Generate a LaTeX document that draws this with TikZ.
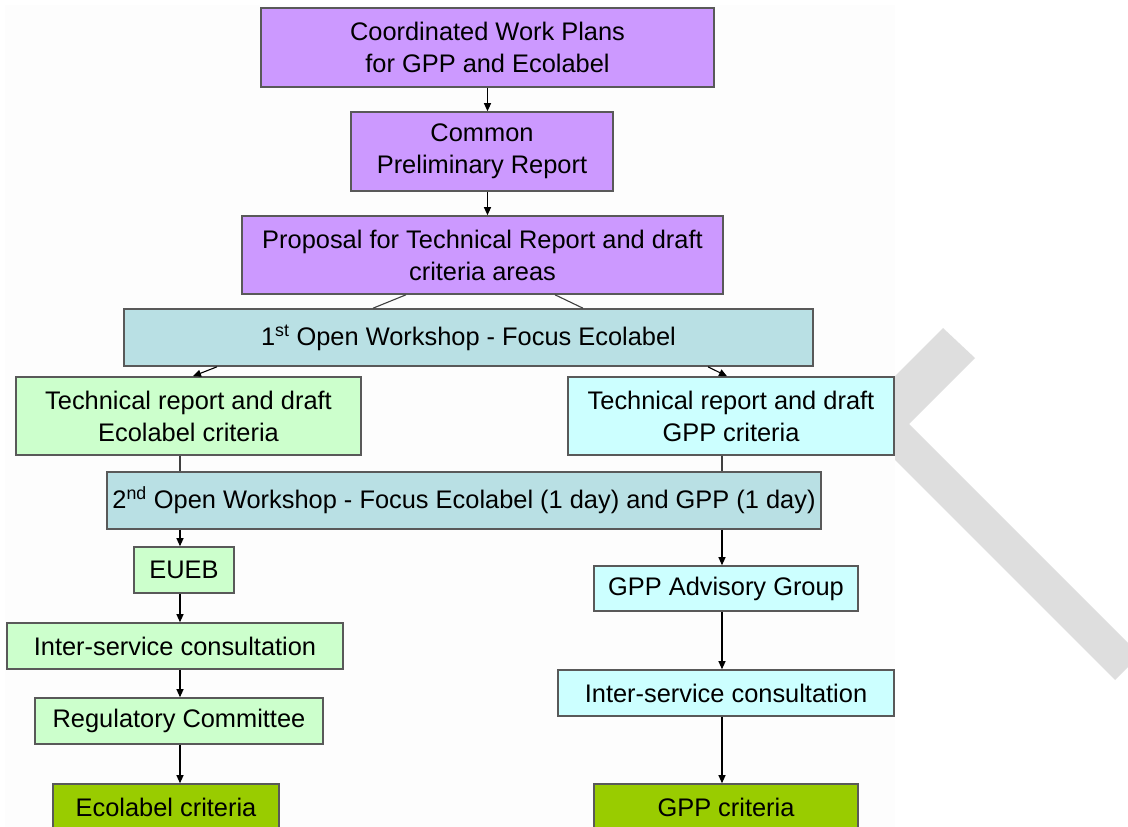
\documentclass[tikz,border=0pt]{standalone}
\usepackage{fontspec}
\setmainfont{Liberation Sans}
\usetikzlibrary{arrows.meta,calc,positioning}
\definecolor{plancol}{RGB}{204,153,255}
\definecolor{shopcol}{RGB}{185,224,228}
\definecolor{ecocol}{RGB}{204,255,204}
\definecolor{gppcol}{RGB}{204,255,255}
\definecolor{critcol}{RGB}{153,204,0}
\definecolor{chevcol}{RGB}{222,222,222}
\definecolor{panelcol}{RGB}{253,253,253}

\begin{document}
\begin{tikzpicture}[x=1pt, y=-1pt,
	box/.style={draw=black!65, line width=1.6pt, align=center, inner sep=0pt, font=\fontsize{25.4}{32}\selectfont},
	arr/.style={line width=1.1pt, -{Triangle[length=8pt,width=7pt]}},
	link/.style={line width=1.1pt, draw=black!75}]
	\useasboundingbox (0,0) rectangle (1128,827);

	% Gray chevron behind the slide panel
	\fill[chevcol] (943,328) -- (975,358) -- (909,424) -- (1140,655) -- (1115,680) -- (853,418) -- cycle;
	\fill[panelcol] (5,5) rectangle (895,827);

	% Common steps
	\node[box, fill=plancol, minimum width=453, minimum height=79] (plans) at (487.5,47.5) {Coordinated Work Plans\\for GPP and Ecolabel};
	\node[box, fill=plancol, minimum width=262, minimum height=79] (prelim) at (482,151.5) {Common\\Preliminary Report};
	\node[box, fill=plancol, minimum width=481, minimum height=78] (proposal) at (482.5,255) {Proposal for Technical Report and draft\\criteria areas};
	\node[box, fill=shopcol, minimum width=689, minimum height=57] (ws1) at (468.5,337.5) {1\textsuperscript{st} Open Workshop - Focus Ecolabel};

	\node[box, fill=ecocol, minimum width=345, minimum height=78] (techeco) at (188.5,416) {Technical report and draft\\Ecolabel criteria};
	\node[box, fill=gppcol, minimum width=326, minimum height=78] (techgpp) at (731,416) {Technical report and draft\\GPP criteria};
	\node[box, fill=shopcol, minimum width=714, minimum height=57] (ws2) at (464,500.5) {2\textsuperscript{nd} Open Workshop - Focus Ecolabel (1 day) and GPP (1 day)};

	% Ecolabel branch
	\node[box, fill=ecocol, minimum width=100, minimum height=46] (eueb) at (184,570) {EUEB};
	\node[box, fill=ecocol, minimum width=336, minimum height=46] (iscl) at (175,646) {Inter-service consultation};
	\node[box, fill=ecocol, minimum width=288, minimum height=46] (regc) at (179,721) {Regulatory Committee};
	\node[box, fill=critcol, minimum width=226, minimum height=46] (ecocrit) at (166,807) {Ecolabel criteria};

	% GPP branch
	\node[box, fill=gppcol, minimum width=264, minimum height=45] (advgrp) at (726,588.5) {GPP Advisory Group};
	\node[box, fill=gppcol, minimum width=336, minimum height=46] (iscg) at (726,693) {Inter-service consultation};
	\node[box, fill=critcol, minimum width=264, minimum height=46] (gppcrit) at (726,807) {GPP criteria};

	\coordinate (lcol) at (180,0);
	\coordinate (rcol) at (722,0);

	% Connectors of the common steps
	\draw[arr] (plans.south) -- (plans.south |- prelim.north);
	\draw[arr] (plans.south |- prelim.south) -- (plans.south |- proposal.north);
	\draw[link] ([xshift=-76.5]proposal.south) -- ([xshift=-95.5]ws1.north);
	\draw[link] ([xshift=72.5]proposal.south) -- ([xshift=114.5]ws1.north);
	\draw[arr] ([xshift=-251.5]ws1.south) -- ([xshift=4.5]techeco.north);
	\draw[arr] ([xshift=239.5]ws1.south) -- ([xshift=-4]techgpp.north);

	% Connectors of the Ecolabel branch
	\draw[link] (lcol |- techeco.south) -- (lcol |- ws2.north);
	\draw[arr] (lcol |- ws2.south) -- (lcol |- eueb.north);
	\draw[arr] (lcol |- eueb.south) -- (lcol |- iscl.north);
	\draw[arr] (lcol |- iscl.south) -- (lcol |- regc.north);
	\draw[arr] (lcol |- regc.south) -- (lcol |- ecocrit.north);

	% Connectors of the GPP branch
	\draw[link] (rcol |- techgpp.south) -- (rcol |- ws2.north);
	\draw[arr] (rcol |- ws2.south) -- (rcol |- advgrp.north);
	\draw[arr] (rcol |- advgrp.south) -- (rcol |- iscg.north);
	\draw[arr] (rcol |- iscg.south) -- (rcol |- gppcrit.north);
\end{tikzpicture}
\end{document}
